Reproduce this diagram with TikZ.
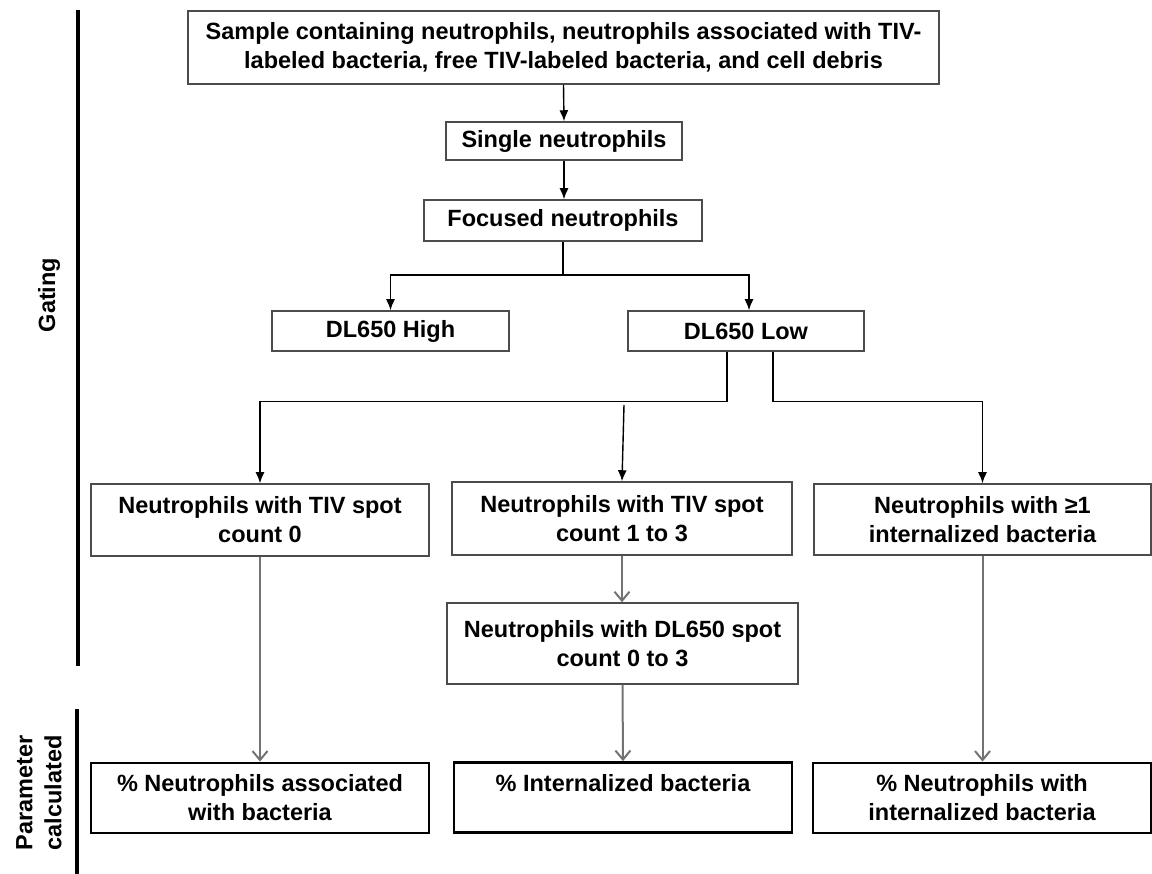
\documentclass[tikz,border=0pt]{standalone}
\usepackage{fontspec}
\setmainfont{Liberation Sans}
\usetikzlibrary{arrows.meta}
\begin{document}
\begin{tikzpicture}[x=1pt, y=-1pt,
		every node/.style={font=\fontsize{23.5}{29}\selectfont\bfseries, align=center, inner sep=0pt},
		box/.style={rectangle, draw=black!70, line width=1.5pt},
		result/.style={rectangle, draw=black, line width=2.8pt, minimum width=338pt, minimum height=70pt},
		flow/.style={draw=black, line width=1.4pt, -{Latex[length=11pt,width=9pt]}},
		calc/.style={draw=black!55, line width=2pt, -{Straight Barb[length=9pt,width=15pt]}},
		bar/.style={line width=3.2pt}]
		\useasboundingbox (0,0) rectangle (1152,874);
		
		% Gating boxes
		\node[box, minimum width=751pt, minimum height=73pt] (sample) at (563.5,47.5)
		{Sample containing neutrophils, neutrophils associated with TIV-\\labeled bacteria, free TIV-labeled bacteria, and cell debris};
		\node[box, minimum width=236pt, minimum height=38pt] (single) at (564,141) {Single neutrophils};
		\node[box, minimum width=278pt, minimum height=41pt] (focused) at (563,220.5) {Focused neutrophils};
		\node[box, minimum width=237pt, minimum height=40pt] (high) at (390.5,331) {DL650 High};
		\node[box, minimum width=236pt, minimum height=40pt] (low) at (746,331) {DL650 Low};
		\node[box, minimum width=338pt, minimum height=72pt] (tivzero) at (260,520) {Neutrophils with TIV spot\\count 0};
		\node[box, minimum width=340pt, minimum height=73pt] (tivfew) at (622,518.5) {Neutrophils with TIV spot\\count 1 to 3};
		\node[box, minimum width=337pt, minimum height=71pt] (internal) at (982.5,519.5) {Neutrophils with ≥1\\internalized bacteria};
		\node[box, minimum width=351pt, minimum height=81pt] (dlspot) at (622.5,643.5) {Neutrophils with DL650 spot\\count 0 to 3};
		
		% Parameter boxes
		\node[result] (pctassoc) at (260,798) {\% Neutrophils associated\\with bacteria};
		\node[result] (pctbact) at (623,797.5) {\% Internalized bacteria\\\mbox{}};
		\node[result] (pctneut) at (982,798) {\% Neutrophils with\\internalized bacteria};
		
		% Side labels
		\node[rotate=90] (gating) at (49,295) {Gating};
		\node[rotate=90] (param) at (39,793) {Parameter\\calculated};
		\draw[bar] (78,10) -- (78,666);
		\draw[bar] (77,709) -- (77,874);
		
		% Gating arrows
		\coordinate (split) at (563,275);
		\coordinate (midtop) at (624,405);
		\draw[flow] (sample.south) -- (single.north);
		\draw[flow] (single.north |- single.south) -- (focused.north -| single.north);
		\draw[flow] (focused.south) -- (split) -| (high.north);
		\draw[flow] (split) -| ([xshift=3pt]low.north);
		\draw[flow] ([xshift=-19pt]low.south) -- ++(0,50) -| (tivzero.north);
		\draw[flow] ([xshift=27pt]low.south) -- ++(0,50) -| (internal.north);
		\draw[flow] (midtop) -- (tivfew.north);
		
		% Parameter arrows
		\draw[calc] (tivfew.south) -- (dlspot.north -| tivfew.south);
		\draw[calc] (tivzero.south) -- (pctassoc.north);
		\draw[calc] (dlspot.south) -- (pctbact.north);
		\draw[calc] (internal.south) -- (pctneut.north -| internal.south);
	\end{tikzpicture}
\end{document}
